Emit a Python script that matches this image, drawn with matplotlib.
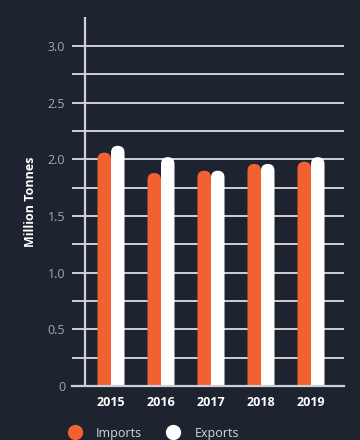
import matplotlib
matplotlib.use("Agg")
import matplotlib.pyplot as plt
from matplotlib.patches import FancyBboxPatch
from matplotlib.lines import Line2D
import numpy as np

# Trade volumes (million tonnes)
years = ["2015", "2016", "2017", "2018", "2019"]
imports = [2.06, 1.88, 1.90, 1.96, 1.98]
exports = [2.12, 2.02, 1.90, 1.96, 2.02]
ytick_labels = ["0", "0.5", "1.0", "1.5", "2.0", "2.5", "3.0"]

bg = "#1e2330"
orange = "#f26130"
white = "#ffffff"
grid_col = "#cdd0d4"
tick_col = "#a4a8ae"

plt.rcParams["font.family"] = ["Open Sans", "DejaVu Sans"]

fig = plt.figure(figsize=(3.6, 4.4), dpi=100, facecolor=bg)
ax = fig.add_axes([72 / 360, 1 - 386 / 440, 272 / 360, 369 / 440])
ax.set_facecolor(bg)

ax.set_xlim(-0.78, 4.66)
ax.set_ylim(0, 3.257)

# grid lines (major + minor drawn the same)
ax.set_yticks(np.arange(0, 3.01, 0.5))
ax.set_yticks(np.arange(0.25, 3.01, 0.5), minor=True)
ax.grid(axis="y", which="both", color=grid_col, linewidth=1.4, zorder=1)
ax.tick_params(axis="y", which="both", length=0, pad=5, labelcolor=tick_col, labelsize=9)
ax.set_yticklabels(ytick_labels)

# the vertical axis line inside the plot
ax.axvline(-0.52, color=grid_col, linewidth=1.6, zorder=1)

for s in ["top", "right", "left"]:
    ax.spines[s].set_visible(False)
ax.spines["bottom"].set_color(grid_col)
ax.spines["bottom"].set_linewidth(1.6)
ax.spines["bottom"].set_zorder(4)

x = np.arange(len(years))
ax.set_xticks(x)
ax.set_xticklabels(years, color=white, fontweight="bold", fontsize=9)
ax.tick_params(axis="x", length=0, pad=7)

# rounded-top bars
w = 0.27
fig.canvas.draw()
bb = ax.get_window_extent()
px_x = bb.width / (ax.get_xlim()[1] - ax.get_xlim()[0])
px_y = bb.height / (ax.get_ylim()[1] - ax.get_ylim()[0])
aspect = px_x / px_y

for i in range(len(years)):
    for off, val, col in [(-w / 2, imports[i], orange), (w / 2, exports[i], white)]:
        p = FancyBboxPatch((x[i] + off - w / 2, -0.5), w, val + 0.5,
                           boxstyle=f"round,pad=0,rounding_size={w / 2}",
                           mutation_aspect=aspect, facecolor=col,
                           edgecolor="none", zorder=3)
        ax.add_patch(p)

fig.text(30 / 360, 1 - 202 / 440, "Million Tonnes", rotation=90, color=white,
         fontweight="bold", fontsize=9, ha="center", va="center")

handles = [Line2D([], [], marker="o", linestyle="none", markersize=11,
                  markerfacecolor=orange, markeredgecolor="none", label="Imports"),
           Line2D([], [], marker="o", linestyle="none", markersize=11,
                  markerfacecolor=white, markeredgecolor="none", label="Exports")]
leg = fig.legend(handles=handles, loc="center left", ncol=2, frameon=False,
                 bbox_to_anchor=(57 / 360, 1 - 433 / 440), fontsize=9,
                 handletextpad=0.7, columnspacing=1.5, borderaxespad=0)
for t in leg.get_texts():
    t.set_color("#d4d6da")

fig.savefig("out.png", dpi=100, facecolor=bg)
